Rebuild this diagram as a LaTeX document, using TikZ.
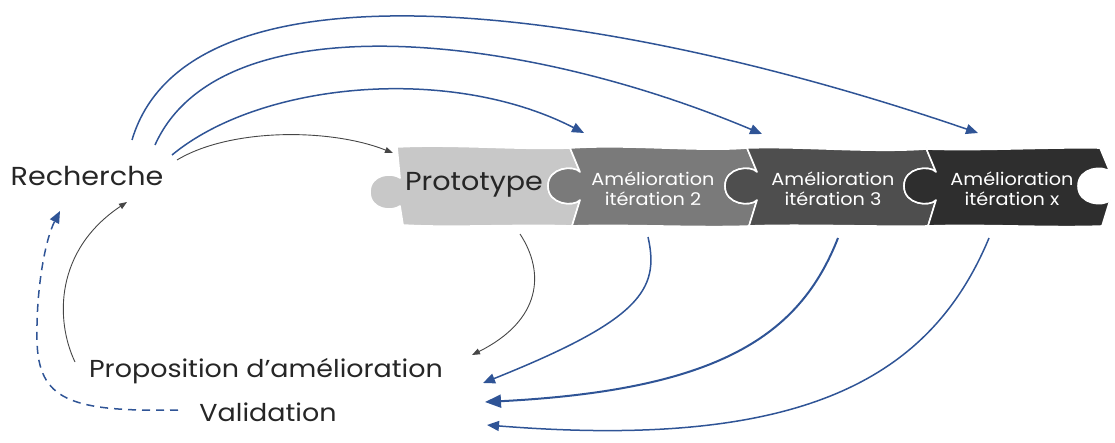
\documentclass[tikz,border=0pt]{standalone}
\usepackage{fontspec}
\setmainfont{Poppins}[FakeStretch=1.1]
\usetikzlibrary{arrows.meta}

\definecolor{flowblue}{RGB}{47,84,150}
\definecolor{flowgray}{RGB}{70,70,70}
\definecolor{pieceA}{RGB}{200,200,200}
\definecolor{pieceB}{RGB}{122,122,122}
\definecolor{pieceC}{RGB}{78,78,78}
\definecolor{pieceD}{RGB}{46,46,46}

% seam between two puzzle pieces, #1 = x of the neck; the knob belongs to the right-hand piece
\newcommand{\seamdown}[1]{-- (#1-10,148) -- (#1,172) .. controls (#1-6,165) and (#1-32,167) .. (#1-32,186) .. controls (#1-32,205) and (#1-6,207) .. (#1,200) -- (#1-8,226)}
\newcommand{\seamup}[1]{-- (#1-8,226) -- (#1,200) .. controls (#1-6,207) and (#1-32,205) .. (#1-32,186) .. controls (#1-32,167) and (#1-6,165) .. (#1,172) -- (#1-10,148)}

\tikzset{
  piece/.style={draw=white, line width=1.6pt, line join=round},
  lbl/.style={inner sep=0pt, font=\fontsize{26}{30}\selectfont, text=black!85},
  lblsmall/.style={lbl, font=\fontsize{24.5}{30}\selectfont},
  piecetxt/.style={inner sep=0pt, align=center, font=\fontsize{17.5}{20}\selectfont, text=white},
  bluearrow/.style={draw=flowblue, line width=1.5pt, -{Triangle[length=12pt,width=10pt]}},
  grayarrow/.style={draw=flowgray, line width=0.9pt, -{Triangle[length=8pt,width=6pt]}},
}

\begin{document}
\begin{tikzpicture}[x=1pt,y=-1pt]
\useasboundingbox (0,0) rectangle (1115,443);

% puzzle pieces
\filldraw[piece, fill=pieceA] (397,147) .. controls (450,144) and (520,150) .. (570,148)
  \seamdown{580} .. controls (520,224) and (450,228) .. (403,225)
  -- (400,206) .. controls (392,212) and (370,210) .. (370,192)
  .. controls (370,174) and (392,172) .. (400,178) -- cycle;
\filldraw[piece, fill=pieceB] (570,148) .. controls (630,144) and (700,152) .. (747,148)
  \seamdown{757} .. controls (700,228) and (620,224) .. (572,226) \seamup{580} -- cycle;
\filldraw[piece, fill=pieceC] (747,148) .. controls (800,146) and (870,153) .. (926,149)
  \seamdown{936} .. controls (880,227) and (800,224) .. (749,226) \seamup{757} -- cycle;
\filldraw[piece, fill=pieceD] (926,149) .. controls (980,151) and (1050,147) .. (1100,148)
  \seamdown{1110} .. controls (1050,228) and (980,224) .. (928,226) \seamup{936} -- cycle;

% labels
\node[lbl, anchor=base] (rech) at (87,186) {Recherche};
\node[lbl, anchor=base] (proto) at (474,191) {Prototype};
\node[piecetxt] (it2) at (653,189) {Amélioration\\itération 2};
\node[piecetxt] (it3) at (833,189) {Amélioration\\itération 3};
\node[piecetxt] (itx) at (1012,189) {Amélioration\\itération x};
\node[lblsmall, anchor=base] (prop) at (266,377) {Proposition d'amélioration};
\node[lblsmall, anchor=base] (valid) at (268,421) {Validation};

% connector ends
\coordinate (rechA) at (177,160);
\coordinate (rechB) at (172,155);
\coordinate (rechC) at (155,145);
\coordinate (rechD) at (132,140);
\coordinate (rechIn) at (127,202);
\coordinate (rechDash) at (60,211);
\coordinate (protoIn) at (393,153);
\coordinate (protoOut) at (520,234);
\coordinate (it2In) at (584,133);
\coordinate (it3In) at (762,134);
\coordinate (itxIn) at (978,133);
\coordinate (it2Out) at (648,237);
\coordinate (it3Out) at (838,238);
\coordinate (itxOut) at (989,238);
\coordinate (propIn) at (472,355);
\coordinate (propLeft) at (75,362);
\coordinate (validIn1) at (483,383);
\coordinate (validIn2) at (485,402);
\coordinate (validIn3) at (487,425);
\coordinate (validLeft) at (178,410);

% research feeds the prototype and every iteration
\draw[grayarrow] (rechA) .. controls (230,128) and (330,128) .. (protoIn);
\draw[bluearrow] (rechB) .. controls (260,82) and (450,64) .. (it2In);
\draw[bluearrow] (rechC) .. controls (220,0) and (520,32) .. (it3In);
\draw[bluearrow] (rechD) .. controls (190,-55) and (620,10) .. (itxIn);

% every stage feeds back into the proposals
\draw[grayarrow] (protoOut) .. controls (545,272) and (542,320) .. (propIn);
\draw[bluearrow] (it2Out) .. controls (660,290) and (640,320) .. (validIn1);
\draw[bluearrow, line width=2pt, -{Triangle[length=16pt,width=13pt]}] (it3Out) .. controls (800,335) and (720,390) .. (validIn2);
\draw[bluearrow] (itxOut) .. controls (930,380) and (800,450) .. (validIn3);

% loop back to research
\draw[grayarrow] (propLeft) .. controls (55,320) and (55,250) .. (rechIn);
\draw[bluearrow, dashed, dash pattern=on 8pt off 6pt] (validLeft) .. controls (70,412) and (38,400) .. (37,340)
  .. controls (36,290) and (45,240) .. (rechDash);
\end{tikzpicture}
\end{document}
